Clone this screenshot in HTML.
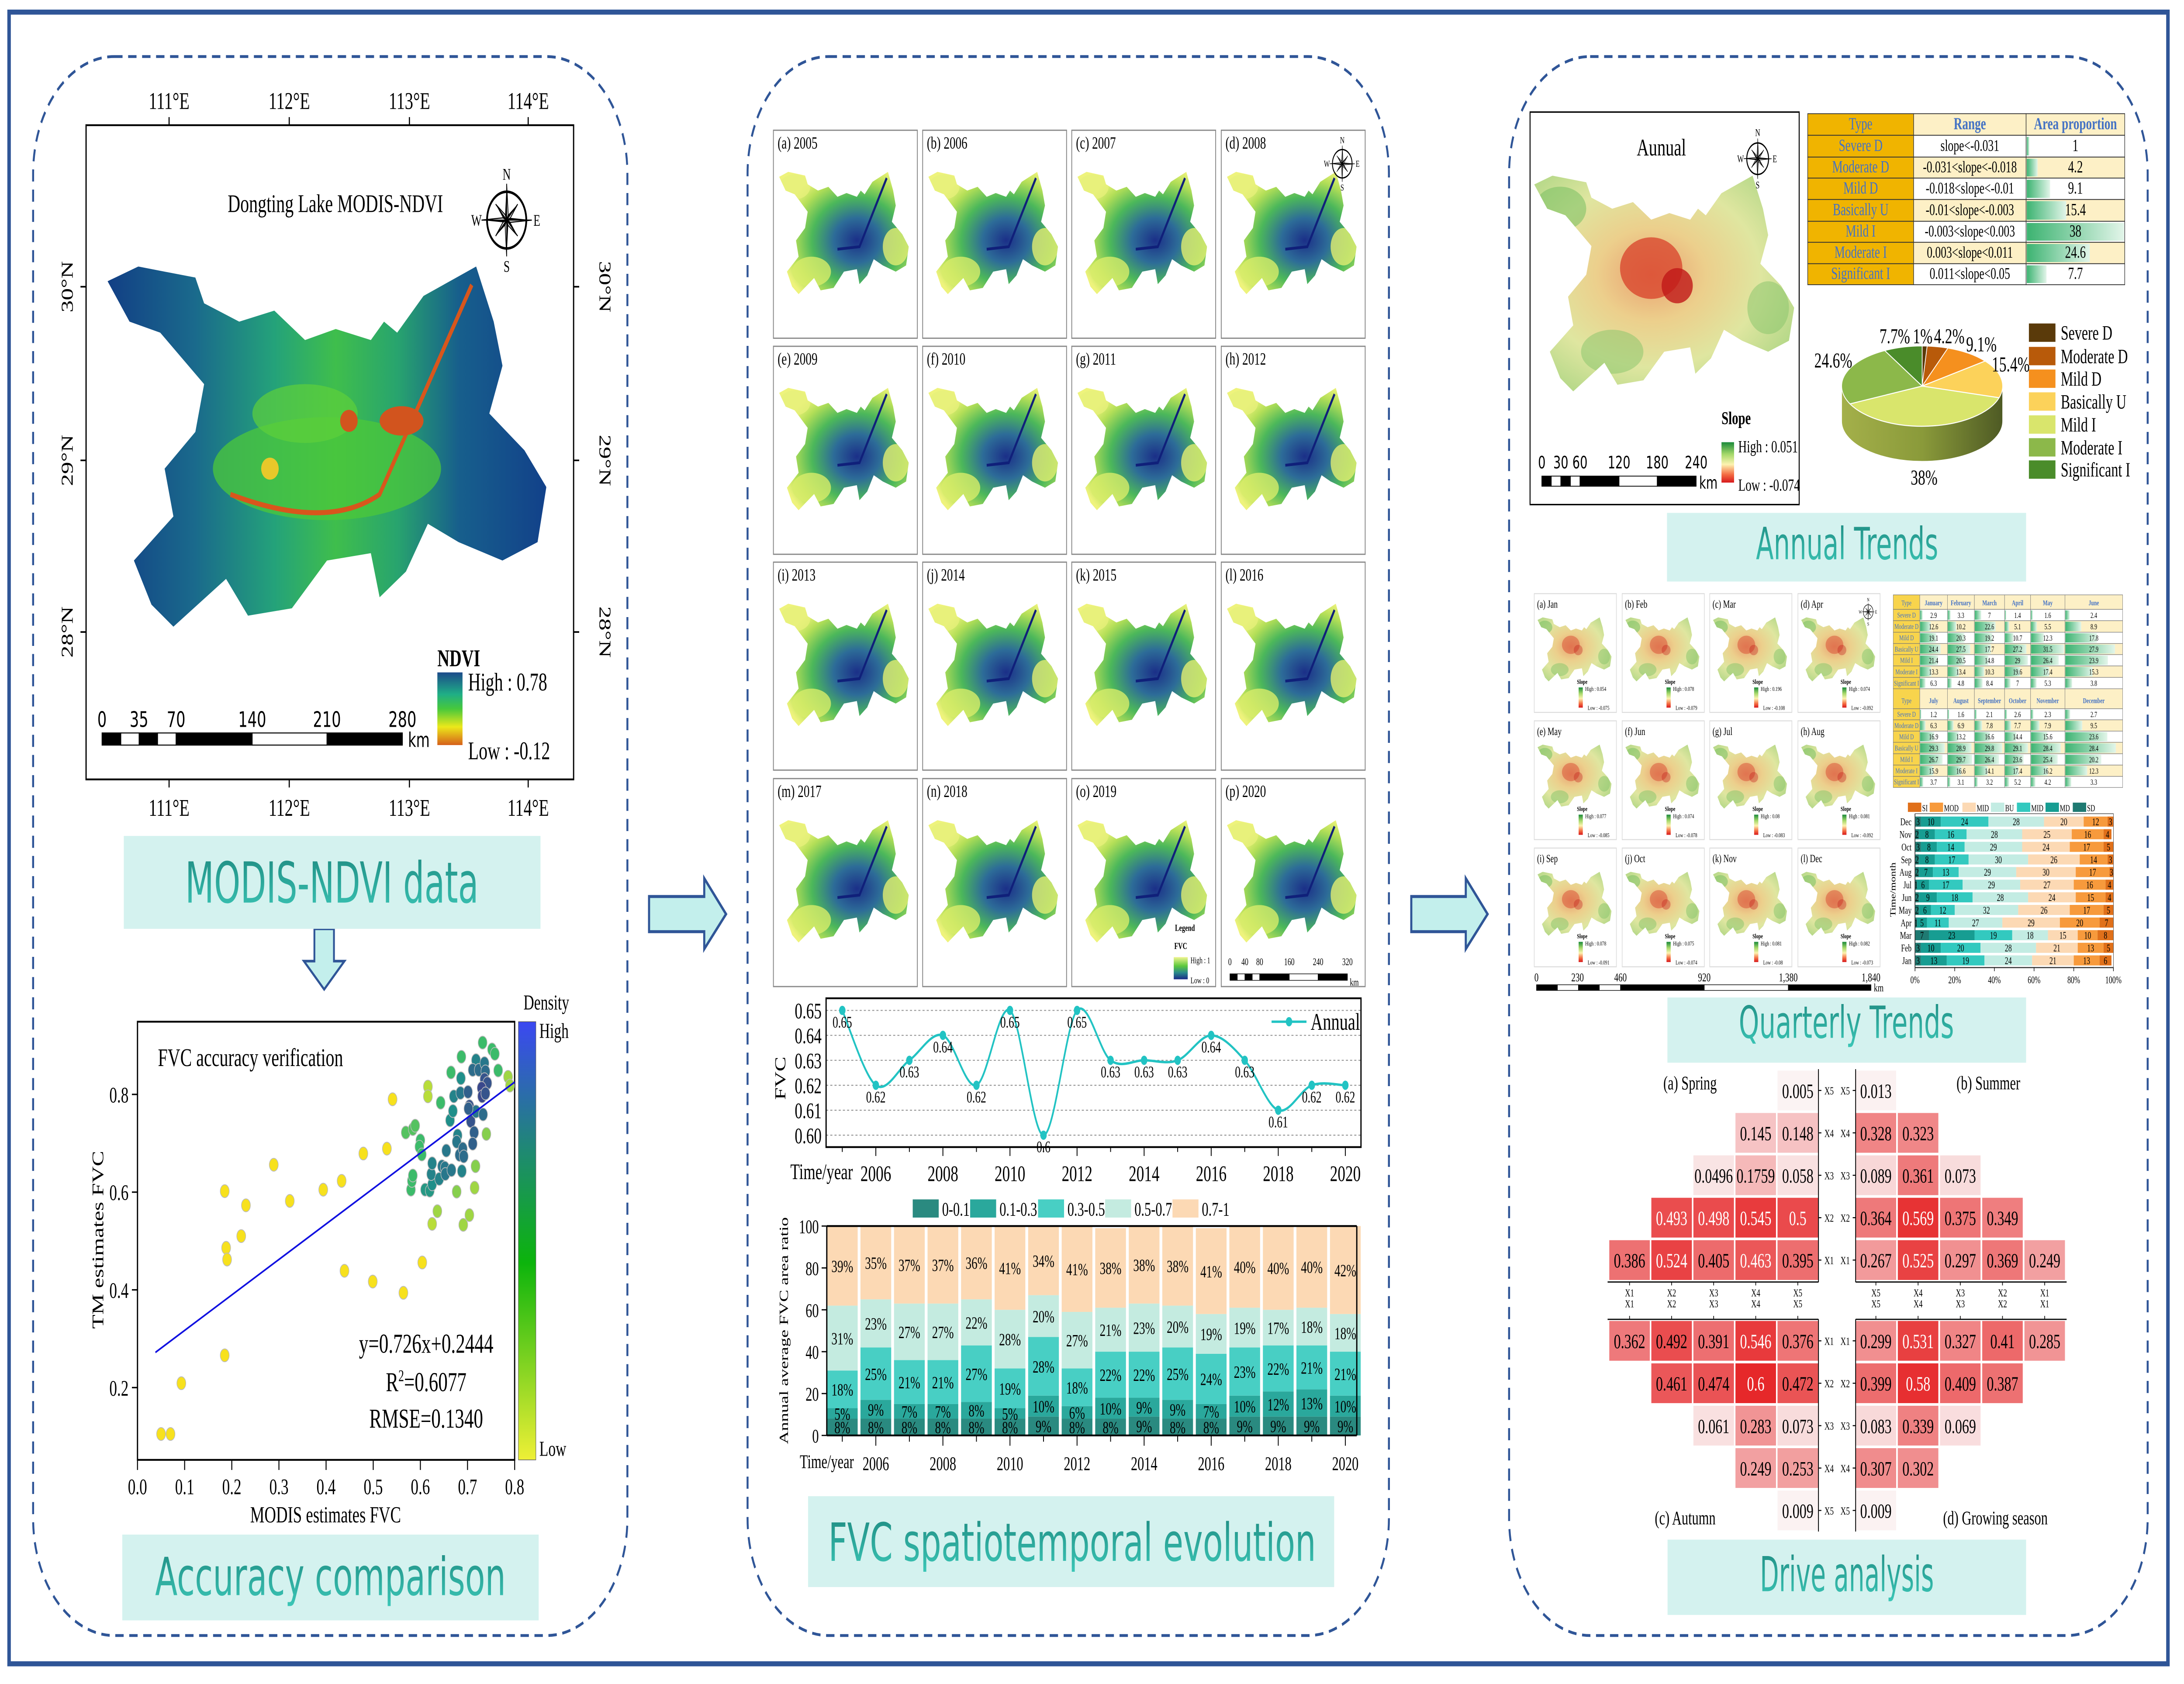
<!DOCTYPE html>
<html><head><meta charset="utf-8">
<style>
html,body{margin:0;padding:0;background:#fff;width:100%;height:100%;overflow:hidden;}
svg{display:block;position:absolute;left:0;top:0;width:100vw;height:100vh;}
text{font-family:"Liberation Serif","Times New Roman",serif;}
.sans{font-family:"DejaVu Sans","Liberation Sans",sans-serif;}
</style></head>
<body>
<svg id="fig" xmlns="http://www.w3.org/2000/svg" width="100%" height="100%" viewBox="0 0 1563 834" preserveAspectRatio="none">
<defs>
  <clipPath id="basinClip" clipPathUnits="objectBoundingBox">
    <path d="M0,0.04 L0.07,0 L0.2,0.03 L0.22,0.1 L0.3,0.15 L0.38,0.12 L0.45,0.2 L0.52,0.17 L0.6,0.2 L0.63,0.15 L0.66,0.18 L0.72,0.08 L0.84,0 L0.88,0.15 L0.9,0.27 L0.87,0.4 L0.95,0.5 L1,0.6 L0.98,0.75 L0.9,0.8 L0.8,0.75 L0.73,0.7 L0.68,0.83 L0.62,0.9 L0.6,0.78 L0.5,0.8 L0.42,0.93 L0.32,0.95 L0.27,0.85 L0.15,0.98 L0.1,0.92 L0.06,0.8 L0.15,0.68 L0.13,0.55 L0.2,0.45 L0.22,0.32 L0.12,0.18 L0.05,0.15 Z"/>
  </clipPath>
  <linearGradient id="gNdvi" x1="0" y1="0" x2="1" y2="0">
    <stop offset="0" stop-color="#123f85"/><stop offset="0.2" stop-color="#1a6a8c"/>
    <stop offset="0.38" stop-color="#24a27a"/><stop offset="0.52" stop-color="#3fbe4c"/>
    <stop offset="0.66" stop-color="#28a46e"/><stop offset="0.8" stop-color="#175f8c"/>
    <stop offset="1" stop-color="#12418a"/>
  </linearGradient>
  <radialGradient id="gFvc" cx="0.6" cy="0.55" r="0.6">
    <stop offset="0" stop-color="#1b2f88"/><stop offset="0.3" stop-color="#2d6c98"/>
    <stop offset="0.58" stop-color="#4cb85a"/><stop offset="0.82" stop-color="#b4df58"/>
    <stop offset="1" stop-color="#eef37c"/>
  </radialGradient>
  <radialGradient id="gSlope" cx="0.45" cy="0.45" r="0.6">
    <stop offset="0" stop-color="#e9a070"/><stop offset="0.35" stop-color="#eccf8c"/>
    <stop offset="0.7" stop-color="#dfe6a0"/><stop offset="1" stop-color="#b8d98a"/>
  </radialGradient>
  <linearGradient id="cbNdvi" x1="0" y1="0" x2="0" y2="1">
    <stop offset="0" stop-color="#1c4a8a"/><stop offset="0.3" stop-color="#1fae86"/>
    <stop offset="0.5" stop-color="#46c83c"/><stop offset="0.75" stop-color="#ece81a"/>
    <stop offset="1" stop-color="#d6601a"/>
  </linearGradient>
  <linearGradient id="cbSlope" x1="0" y1="0" x2="0" y2="1">
    <stop offset="0" stop-color="#1a8a3a"/><stop offset="0.3" stop-color="#a6d96a"/>
    <stop offset="0.55" stop-color="#fdf3b0"/><stop offset="0.8" stop-color="#f46d43"/>
    <stop offset="1" stop-color="#d7191c"/>
  </linearGradient>
  <linearGradient id="cbFvc" x1="0" y1="0" x2="0" y2="1">
    <stop offset="0" stop-color="#f0f590"/><stop offset="0.4" stop-color="#5cc83c"/>
    <stop offset="0.7" stop-color="#2a8a8a"/><stop offset="1" stop-color="#1a2a88"/>
  </linearGradient>
  <linearGradient id="cbDens" x1="0" y1="0" x2="0" y2="1">
    <stop offset="0" stop-color="#3b48f2"/><stop offset="0.3" stop-color="#1e8a70"/>
    <stop offset="0.55" stop-color="#0cb40c"/><stop offset="1" stop-color="#eef036"/>
  </linearGradient>
  <linearGradient id="gBar" x1="0" y1="0" x2="1" y2="0">
    <stop offset="0" stop-color="#3cb371"/><stop offset="1" stop-color="#e2f5e9"/>
  </linearGradient>
  <linearGradient id="gPieSide" x1="0" y1="0" x2="1" y2="0">
    <stop offset="0" stop-color="#a4b04a"/><stop offset="0.5" stop-color="#8a9a3a"/>
    <stop offset="1" stop-color="#4e5a24"/>
  </linearGradient>
  <linearGradient id="gLabel" x1="0" y1="0" x2="0" y2="1">
    <stop offset="0" stop-color="#1e8a80"/><stop offset="1" stop-color="#3cc8b8"/>
  </linearGradient>
</defs>
<g id="root">
<rect x="0" y="0" width="1563" height="834" fill="#ffffff"/>
<rect x="6.5" y="6" width="1545" height="818" fill="none" stroke="#2f5597" stroke-width="2.5"/>
<rect x="23.7" y="28" width="425.3" height="782" rx="58" fill="none" stroke="#2f5597" stroke-width="1.4" stroke-dasharray="6 4"/>
<rect x="535" y="28" width="459" height="782" rx="58" fill="none" stroke="#2f5597" stroke-width="1.4" stroke-dasharray="6 4"/>
<rect x="1080" y="28" width="457" height="782" rx="58" fill="none" stroke="#2f5597" stroke-width="1.4" stroke-dasharray="6 4"/>
<path d="M464.5,444 L504,444 L504,435 L519.6,452.7 L504,470 L504,461.4 L464.5,461.4 Z" fill="#c3efec" stroke="#2f5597" stroke-width="1.5"/>
<path d="M1010,444 L1049,444 L1049,435 L1064.6,452.7 L1049,470 L1049,461.4 L1010,461.4 Z" fill="#c3efec" stroke="#2f5597" stroke-width="1.5"/>
<path d="M225,460 L239,460 L239,476 L246.5,476 L232,490 L217.5,476 L225,476 Z" fill="#c3efec" stroke="#2f5597" stroke-width="1.3"/>
</g>
</svg>
<script>
// ===================== DATA =====================
const years = [2005,2006,2007,2008,2009,2010,2011,2012,2013,2014,2015,2016,2017,2018,2019,2020];
const fvcAnnual = [0.65,0.62,0.63,0.64,0.62,0.65,0.60,0.65,0.63,0.63,0.63,0.64,0.63,0.61,0.62,0.62];
const fvcClasses = ["0-0.1","0.1-0.3","0.3-0.5","0.5-0.7","0.7-1"];
const cls01 = [8,8,8,8,8,8,9,8,8,9,8,8,9,9,9,9];
const cls13 = [5,9,7,7,8,5,10,6,10,9,9,7,10,12,13,10];
const cls35 = [18,25,21,21,27,19,28,18,22,22,25,24,23,22,21,21];
const cls57 = [31,23,27,27,22,28,20,27,21,23,20,19,19,17,18,18];
const cls71 = [39,35,37,37,36,41,34,41,38,38,38,41,40,40,40,42];
const lineTicks = [0.60,0.61,0.62,0.63,0.64,0.65];
const barTicks = [0,20,40,60,80,100];

const scatX = [0.05,0.07,0.093,0.185,0.185,0.188,0.19,0.22,0.23,0.289,0.323,0.394,0.433,0.439,0.479,0.499,0.529,0.541,0.564,0.604,
 0.616,0.616,0.625,0.636,0.691,0.704,0.715,0.717,0.786,0.79,0.74,0.677,
 0.569,0.584,0.589,0.6,0.598,0.603,0.58,0.582,0.584,0.643,0.665,0.687,0.732,0.752,0.758,0.765,
 0.61,0.62,0.625,0.623,0.625,0.64,0.646,0.652,0.653,0.666,0.655,0.663,0.669,0.671,0.686,0.685,0.679,0.677,0.683,0.69,0.692,0.688,0.701,0.704,0.707,0.714,0.711,0.718,0.711,0.724,0.736,0.738,0.736,0.742,0.73,0.731,0.738,0.718,0.733,0.702];
const scatY = [0.105,0.105,0.209,0.266,0.602,0.486,0.462,0.51,0.573,0.656,0.582,0.605,0.623,0.439,0.679,0.417,0.689,0.79,0.394,0.456,
 0.816,0.796,0.535,0.561,0.533,0.553,0.609,0.653,0.836,0.818,0.719,0.601,
 0.722,0.729,0.736,0.706,0.693,0.677,0.605,0.623,0.634,0.783,0.845,0.877,0.906,0.892,0.883,0.849,
 0.605,0.603,0.616,0.637,0.659,0.627,0.653,0.65,0.637,0.645,0.685,0.747,0.766,0.796,0.833,0.803,0.716,0.703,0.676,0.689,0.673,0.643,0.805,0.776,0.745,0.722,0.699,0.87,0.85,0.85,0.864,0.847,0.831,0.823,0.813,0.796,0.802,0.765,0.759,0.771];
const scatDensity = [0,0,0,0,0,0,0,0,0,0,0,0,0,0,0,0,0,0,0,0,
 0.2,0.2,0.2,0.25,0.25,0.25,0.25,0.3,0.25,0.25,0.3,0.3,
 0.4,0.4,0.4,0.45,0.45,0.45,0.45,0.45,0.45,0.45,0.45,0.45,0.45,0.45,0.45,0.45,
 0.65,0.65,0.7,0.75,0.75,0.75,0.8,0.8,0.8,0.8,0.8,0.7,0.7,0.75,0.7,0.8,0.75,0.8,0.85,0.85,0.85,0.75,0.9,0.95,0.95,0.9,0.9,0.75,0.85,0.85,0.8,0.85,0.95,0.95,1,1,0.95,0.8,0.85,0.9];
const scatTicks = [0,0.1,0.2,0.3,0.4,0.5,0.6,0.7,0.8];
const scatYTicks = [0.2,0.4,0.6,0.8];
const regSlope = 0.726, regIntercept = 0.2444;

const slopeTypes = ["Severe D","Moderate D","Mild D","Basically U","Mild I","Moderate I","Significant I"];
const slopeRanges = ["slope<-0.031","-0.031<slope<-0.018","-0.018<slope<-0.01","-0.01<slope<-0.003","-0.003<slope<0.003","0.003<slope<0.011","0.011<slope<0.05"];
const slopeAreas = [1,4.2,9.1,15.4,38,24.6,7.7];
const pieColors = ["#5a3a0a","#b85a0a","#f5901e","#fcd25a","#d9e56c","#8cb84a","#4a8c2a"];

const months = ["January","February","March","April","May","June","July","August","September","October","November","December"];
const monSevere = [2.9,3.3,7,1.4,1.6,2.4,1.2,1.6,2.1,2.6,2.3,2.7];
const monModD = [12.6,10.2,22.6,5.1,5.5,8.9,6.3,6.9,7.8,7.7,7.9,9.5];
const monMildD = [19.1,20.3,19.2,10.7,12.3,17.8,16.9,13.2,16.6,14.4,15.6,23.6];
const monBasic = [24.4,27.5,17.7,27.2,31.5,27.9,29.3,28.9,29.8,29.1,28.4,28.4];
const monMildI = [21.4,20.5,14.8,29,26.4,23.9,26.7,29.7,26.4,23.6,25.4,20.2];
const monModI = [13.3,13.4,10.3,19.6,17.4,15.3,15.9,16.6,14.1,17.4,16.2,12.3];
const monSig = [6.3,4.8,8.4,7,5.3,3.8,3.7,3.1,3.2,5.2,4.2,3.3];

const hbMonths = ["Dec","Nov","Oct","Sep","Aug","Jul","Jun","May","Apr","Mar","Feb","Jan"];
const hbSD  = [3,2,3,2,2,1,2,2,1,7,3,3];
const hbMD  = [10,8,8,8,7,6,9,6,5,23,10,13];
const hbMID = [24,16,14,17,13,17,18,12,11,19,20,19];
const hbBU  = [28,28,29,30,29,29,28,32,27,18,28,24];
const hbMII = [20,25,24,26,30,27,24,26,29,15,21,21];
const hbMOD = [12,16,17,14,17,16,15,17,20,10,13,13];
const hbSI  = [3,4,5,3,3,4,4,5,7,8,5,6];
const hbTicks = [0,20,40,60,80,100];

const monthShort = ["Jan","Feb","Mar","Apr","May","Jun","Jul","Aug","Sep","Oct","Nov","Dec"];
const monthHigh = ["0.054","0.078","0.196","0.074","0.077","0.074","0.08","0.081","0.078","0.075","0.081","0.082"];
const monthLow = ["-0.075","-0.079","-0.108","-0.092","-0.085","-0.078","-0.083","-0.092","-0.091","-0.074","-0.08","-0.073"];

const springQ = [[0.386,0.524,0.405,0.463,0.395],[0.493,0.498,0.545,0.5],[0.0496,0.1759,0.058],[0.145,0.148],[0.005]];
const summerQ = [[0.249,0.369,0.297,0.525,0.267],[0.349,0.375,0.569,0.364],[0.073,0.361,0.089],[0.323,0.328],[0.013]];
const autumnQ = [[0.362,0.492,0.391,0.546,0.376],[0.461,0.474,0.6,0.472],[0.061,0.283,0.073],[0.249,0.253],[0.009]];
const growQ = [[0.285,0.41,0.327,0.531,0.299],[0.387,0.409,0.58,0.399],[0.069,0.339,0.083],[0.302,0.307],[0.009]];
const factorNames = ["X1","X2","X3","X4","X5"];

// ===================== HELPERS =====================
const NS = "http://www.w3.org/2000/svg";
const svg = document.getElementById("root");
function mk(tag, attrs, parent){
  const e = document.createElementNS(NS, tag);
  for (const k in attrs) e.setAttribute(k, attrs[k]);
  (parent || svg).appendChild(e);
  return e;
}
function txt(str, x, y, size, anchor, parent, extra){
  const a = {x:x, y:y, "font-size":size, "text-anchor":anchor||"start", fill:"#000"};
  if (extra) for (const k in extra) a[k] = extra[k];
  const t = mk("text", a, parent);
  t.textContent = str;
  return t;
}
function group(parent){ return mk("g", {}, parent); }

function drawMap(parent, x, y, w, h, kind){
  const g = mk("g", {"clip-path":"url(#basinClip)"}, parent);
  let fill = kind === "ndvi" ? "url(#gNdvi)" : kind === "fvc" ? "url(#gFvc)" : "url(#gSlope)";
  mk("rect", {x:x, y:y, width:w, height:h, fill:fill}, g);
  if (kind === "ndvi"){
    mk("ellipse", {cx:x+0.5*w, cy:y+0.55*h, rx:0.26*w, ry:0.14*h, fill:"#4cc83a", opacity:0.75}, g);
    mk("ellipse", {cx:x+0.45*w, cy:y+0.4*h, rx:0.12*w, ry:0.08*h, fill:"#5ed03a", opacity:0.7}, g);
    mk("path", {d:`M${x+0.28*w},${y+0.62*h} Q${x+0.5*w},${y+0.72*h} ${x+0.62*w},${y+0.62*h} L${x+0.83*w},${y+0.05*h}`, stroke:"#d8561c", "stroke-width":Math.max(0.8,w*0.008), fill:"none"}, g);
    mk("ellipse", {cx:x+0.67*w, cy:y+0.42*h, rx:0.05*w, ry:0.04*h, fill:"#d2541e"}, g);
    mk("ellipse", {cx:x+0.55*w, cy:y+0.42*h, rx:0.02*w, ry:0.03*h, fill:"#d2541e"}, g);
    mk("ellipse", {cx:x+0.37*w, cy:y+0.55*h, rx:0.02*w, ry:0.03*h, fill:"#e8c82a"}, g);
  } else if (kind === "fvc"){
    mk("ellipse", {cx:x+0.12*w, cy:y+0.12*h, rx:0.12*w, ry:0.1*h, fill:"#e6f07a", opacity:0.8}, g);
    mk("ellipse", {cx:x+0.25*w, cy:y+0.8*h, rx:0.15*w, ry:0.12*h, fill:"#d8ec6a", opacity:0.8}, g);
    mk("ellipse", {cx:x+0.9*w, cy:y+0.6*h, rx:0.1*w, ry:0.15*h, fill:"#e2ee72", opacity:0.8}, g);
    mk("path", {d:`M${x+0.45*w},${y+0.62*h} L${x+0.62*w},${y+0.6*h} L${x+0.83*w},${y+0.05*h}`, stroke:"#10207a", "stroke-width":Math.max(0.8,w*0.015), fill:"none"}, g);
  } else {
    mk("ellipse", {cx:x+0.1*w, cy:y+0.15*h, rx:0.1*w, ry:0.1*h, fill:"#79bf62", opacity:0.55}, g);
    mk("ellipse", {cx:x+0.3*w, cy:y+0.8*h, rx:0.12*w, ry:0.1*h, fill:"#86c46a", opacity:0.5}, g);
    mk("ellipse", {cx:x+0.9*w, cy:y+0.6*h, rx:0.08*w, ry:0.12*h, fill:"#86c46a", opacity:0.5}, g);
    mk("ellipse", {cx:x+0.45*w, cy:y+0.42*h, rx:0.12*w, ry:0.14*h, fill:"#d8402a", opacity:kind==="slopeStrong"?0.75:0.45}, g);
    mk("ellipse", {cx:x+0.55*w, cy:y+0.5*h, rx:0.06*w, ry:0.08*h, fill:"#c01818", opacity:kind==="slopeStrong"?0.8:0.35}, g);
  }
  return g;
}
function compass(parent, cx, cy, r, fs){
  const g = group(parent);
  mk("circle", {cx:cx, cy:cy, r:r*0.78, fill:"none", stroke:"#000", "stroke-width":r*0.07}, g);
  for (let i=0;i<8;i++){
    const a = i*Math.PI/4 - Math.PI/2, L = (i%2===0)? r : r*0.62;
    const a1 = a - Math.PI/8, a2 = a + Math.PI/8, s = r*0.16;
    mk("polygon", {points:`${cx},${cy} ${cx+s*Math.cos(a1)},${cy+s*Math.sin(a1)} ${cx+L*Math.cos(a)},${cy+L*Math.sin(a)}`, fill:"#000"}, g);
    mk("polygon", {points:`${cx},${cy} ${cx+s*Math.cos(a2)},${cy+s*Math.sin(a2)} ${cx+L*Math.cos(a)},${cy+L*Math.sin(a)}`, fill:"#fff", stroke:"#000", "stroke-width":r*0.03}, g);
  }
  txt("N", cx, cy-r-fs*0.25, fs, "middle", g);
  txt("S", cx, cy+r+fs*0.95, fs, "middle", g);
  txt("W", cx-r-fs*0.45, cy+fs*0.35, fs, "middle", g);
  txt("E", cx+r+fs*0.45, cy+fs*0.35, fs, "middle", g);
  return g;
}
function labelBox(x, y, w, h, str, tx, tlen, base, fs){
  const g = group();
  mk("rect", {x:x, y:y, width:w, height:h, fill:"#d4f2ef"}, g);
  txt(str, tx, base, fs, "start", g, {"class":"sans", fill:"url(#gLabel)", textLength:tlen, lengthAdjust:"spacingAndGlyphs"});
  return g;
}

// ===================== PANEL 1: NDVI MAP =====================
const p1 = group();


const ndviFrame = mk("rect", {x:61.6, y:62, width:348.9, height:324, fill:"#fff", stroke:"#000", "stroke-width":0.9}, p1);


const ndviMap = drawMap(p1, 77, 132, 314, 182, "ndvi");


const lonX = [121, 207, 293, 378];
const lonLab = ["111°E","112°E","113°E","114°E"];
for (let i=0;i<4;i++){
  mk("line", {x1:lonX[i], y1:58, x2:lonX[i], y2:62, stroke:"#000", "stroke-width":0.8}, p1);
  mk("line", {x1:lonX[i], y1:386, x2:lonX[i], y2:390, stroke:"#000", "stroke-width":0.8}, p1);
  const t1 = txt(lonLab[i], lonX[i], 54, 12, "middle", p1);
  
  
  const t2 = txt(lonLab[i], lonX[i], 404, 12, "middle", p1);
  
  
}
const latY = [142, 228, 313];
const latLab = ["30°N","29°N","28°N"];
for (let i=0;i<3;i++){
  mk("line", {x1:57.6, y1:latY[i], x2:61.6, y2:latY[i], stroke:"#000", "stroke-width":0.8}, p1);
  mk("line", {x1:410.5, y1:latY[i], x2:414.5, y2:latY[i], stroke:"#000", "stroke-width":0.8}, p1);
  const t1 = txt(latLab[i], 0, 0, 12, "middle", p1, {transform:`translate(52,${latY[i]}) rotate(-90)`});
  
  
  const t2 = txt(latLab[i], 0, 0, 12, "middle", p1, {transform:`translate(429,${latY[i]}) rotate(90)`});
  
  
}
const ndviTitle = txt("Dongting Lake MODIS-NDVI", 240, 105, 12.5, "middle", p1);


const comp1 = compass(p1, 362.6, 109, 18, 8);


const ndviLegT = txt("NDVI", 313, 330, 12, "start", p1, {"font-weight":"bold"});


const ndviCb = mk("rect", {x:313, y:333, width:18, height:36, fill:"url(#cbNdvi)"}, p1);


const ndviHi = txt("High : 0.78", 335, 342, 12.5, "start", p1);


const ndviLo = txt("Low : -0.12", 335, 376, 12.5, "start", p1);


const sbVals = ["0","35","70","140","210","280"];
const sbX = [73, 99.5, 126, 180.5, 234, 288];
for (let i=0;i<sbVals.length;i++){
  const t = txt(sbVals[i], sbX[i], 360, 10.5, "middle", p1, {"class":"sans"});
  
  
}
const sbSeg = [73,86.5,99.5,112.8,126,180.5,234,288];
for (let i=0;i<sbSeg.length-1;i++){
  const r = mk("rect", {x:sbSeg[i], y:363, width:sbSeg[i+1]-sbSeg[i], height:6, fill:(i%2===0)?"#000":"#fff", stroke:"#000", "stroke-width":0.5}, p1);
  
  
}
const km1 = txt("km", 292, 370, 10, "start", p1, {"class":"sans"});


const lb1 = labelBox(88.6, 414, 298.2, 46, "MODIS-NDVI data", 132.5, 210, 447, 28);



// ===================== PANEL 1: SCATTER =====================
const sc = group();


const sx = v => 98.4 + v * 337.4;
const sy = v => 542 + (0.8 - v) * 242;
const scFrame = mk("rect", {x:98.4, y:506, width:269.9, height:217, fill:"#fff", stroke:"#000", "stroke-width":0.9}, sc);


for (const v of scatTicks){
  mk("line", {x1:sx(v), y1:723, x2:sx(v), y2:728, stroke:"#000", "stroke-width":0.7}, sc);
  const t = txt(v.toFixed(1), sx(v), 740, 11, "middle", sc);
  
  
}
for (const v of scatYTicks){
  mk("line", {x1:94.4, y1:sy(v), x2:98.4, y2:sy(v), stroke:"#000", "stroke-width":0.7}, sc);
  const t = txt(v.toFixed(1), 92, sy(v)+4, 11, "end", sc);
  
  
}
const scXT = txt("MODIS estimates FVC", 233, 754, 11.5, "middle", sc);


const scYT = txt("TM estimates FVC", 0, 0, 11.5, "middle", sc, {transform:"translate(74,614) rotate(-90)"});


function densColor(d){
  const stops = [[0,[247,225,29]],[0.2,[184,221,58]],[0.45,[60,187,106]],[0.7,[31,143,138]],[1,[58,72,140]]];
  for (let i=0;i<stops.length-1;i++){
    if (d <= stops[i+1][0]){
      const t = (d - stops[i][0])/(stops[i+1][0]-stops[i][0]);
      const c = stops[i][1].map((v,k)=>Math.round(v + (stops[i+1][1][k]-v)*t));
      return `rgb(${c[0]},${c[1]},${c[2]})`;
    }
  }
  return "rgb(58,72,140)";
}
for (let i=0;i<scatX.length;i++){
  const c = mk("circle", {cx:sx(scatX[i]), cy:sy(scatY[i]), r:3.2, fill:densColor(scatDensity[i]), stroke:"#bbbbbb", "stroke-width":0.4}, sc);
  
  
}
const rx0 = 0.038, rx1 = 0.8;
const regLine = mk("line", {x1:sx(rx0), y1:sy(regSlope*rx0+regIntercept), x2:sx(rx1), y2:sy(regSlope*rx1+regIntercept), stroke:"#1010e0", "stroke-width":0.9}, sc);


const scTitle = txt("FVC accuracy verification", 113, 528, 12.5, "start", sc);


const eq1 = txt("y=0.726x+0.2444", 305, 670, 13.5, "middle", sc);


const eq2 = mk("text", {x:305, y:689, "font-size":13.5, "text-anchor":"middle"}, sc);
eq2.innerHTML = 'R<tspan dy="-5" font-size="8">2</tspan><tspan dy="5">=0.6077</tspan>';


const eq3 = txt("RMSE=0.1340", 305, 707, 13.5, "middle", sc);


const dCb = mk("rect", {x:371, y:506, width:12.5, height:217, fill:"url(#cbDens)", stroke:"#555", "stroke-width":0.3}, sc);


const dT = txt("Density", 391, 500, 10.5, "middle", sc);


const dH = txt("High", 386, 514, 10.5, "start", sc);


const dL = txt("Low", 386, 721, 10.5, "start", sc);


const lb2 = labelBox(87.5, 760, 298, 42.5, "Accuracy comparison", 111, 251, 790, 26);



// ===================== PANEL 2: FVC MAP TILES =====================
const tileX = [553.5, 660.3, 767, 874];
const tileY = [64.5, 171.5, 278.4, 385.6];
const tileW = 103, tileH = 103;
const tileLetters = "abcdefghijklmnop";
for (let i=0;i<16;i++){
  const cx = tileX[i%4], cy = tileY[Math.floor(i/4)];
  const tg = group();
  
  
  mk("rect", {x:cx, y:cy, width:tileW, height:tileH, fill:"#fff", stroke:"#888", "stroke-width":0.6}, tg);
  drawMap(tg, cx+0.04*tileW, cy+0.2*tileH, 0.9*tileW, 0.6*tileH, "fvc");
  const t = txt(`(${tileLetters[i]}) ${years[i]}`, cx+3, cy+9, 8.5, "start", tg);
  
  
}
const comp2 = compass(svg, 960.6, 81.1, 9, 4.5);


const fl1 = txt("Legend", 848, 461, 4.5, "middle", svg, {"font-weight":"bold"});


const fl2 = txt("FVC", 845, 470, 4.5, "middle", svg, {"font-weight":"bold"});


const fcb = mk("rect", {x:840, y:474, width:10, height:11, fill:"url(#cbFvc)"});


const fhi = txt("High : 1", 852, 477, 4.3, "start");


const flo = txt("Low : 0", 852, 487, 4.3, "start");


const fsbVals = ["0","40","80","160","240","320"];
const fsbX = [880.2, 890.9, 901.5, 922.7, 943.3, 964.3];
for (let i=0;i<fsbVals.length;i++){
  const t = txt(fsbVals[i], fsbX[i], 478, 5, "middle");
  
  
}
const fsbSeg = [880.2,885.5,890.9,896.2,901.5,922.7,943.3,964.3];
for (let i=0;i<fsbSeg.length-1;i++){
  const r = mk("rect", {x:fsbSeg[i], y:482.3, width:fsbSeg[i+1]-fsbSeg[i], height:3.2, fill:(i%2===0)?"#000":"#fff", stroke:"#000", "stroke-width":0.3});
  
  
}
const fkm = txt("km", 966, 488, 5, "start");



// ===================== PANEL 2: LINE CHART =====================
const lc = group();


const lx = yr => 602.8 + (yr - 2005) * 24.0;
const ly = v => 500.4 + (0.65 - v) * 1236;
for (const v of lineTicks){
  const gl = mk("line", {x1:591.2, y1:ly(v), x2:974, y2:ly(v), stroke:"#999", "stroke-width":0.5, "stroke-dasharray":"1.5 1.5"}, lc);
  
  
  const t = txt(v.toFixed(2), 588, ly(v)+4, 11, "end", lc);
  
  
}
const lcFrame = mk("rect", {x:591.2, y:494.4, width:382.8, height:73.7, fill:"none", stroke:"#000", "stroke-width":0.9}, lc);


for (const yr of years){
  mk("line", {x1:lx(yr), y1:568.1, x2:lx(yr), y2:(yr%2===0)?572.5:570.5, stroke:"#000", "stroke-width":0.6}, lc);
  if (yr % 2 === 0){
    const t = txt(String(yr), lx(yr), 585, 11, "middle", lc);
    
    
  }
}
const lcTY = txt("Time/year", 588, 584, 11, "middle", lc);


const lcYT = txt("FVC", 0, 0, 11, "middle", lc, {transform:"translate(562,534) rotate(-90)"});


const pts = years.map((yr,i)=>[lx(yr), ly(fvcAnnual[i])]);
let d = `M${pts[0][0]},${pts[0][1]}`;
for (let i=0;i<pts.length-1;i++){
  const p0 = pts[Math.max(0,i-1)], q1 = pts[i], q2 = pts[i+1], p3 = pts[Math.min(pts.length-1,i+2)];
  const c1 = [q1[0]+(q2[0]-p0[0])/6, q1[1]+(q2[1]-p0[1])/6];
  const c2 = [q2[0]-(p3[0]-q1[0])/6, q2[1]-(p3[1]-q1[1])/6];
  d += ` C${c1[0]},${c1[1]} ${c2[0]},${c2[1]} ${q2[0]},${q2[1]}`;
}
const curve = mk("path", {d:d, fill:"none", stroke:"#22c3c3", "stroke-width":1.2}, lc);


for (let i=0;i<years.length;i++){
  const c = mk("circle", {cx:pts[i][0], cy:pts[i][1], r:2.3, fill:"#22c3c3"}, lc);
  
  
  const lab = fvcAnnual[i] === 0.6 ? "0.6" : fvcAnnual[i].toFixed(2);
  const t = txt(lab, pts[i][0], pts[i][1]+8.5, 8, "middle", lc);
  
  
}
const lgL = mk("line", {x1:910, y1:506, x2:935, y2:506, stroke:"#22c3c3", "stroke-width":1.2}, lc);


mk("circle", {cx:922.5, cy:506, r:2.3, fill:"#22c3c3"}, lc);
const lgT = txt("Annual", 938, 510, 12, "start", lc);



// ===================== PANEL 2: STACKED BAR =====================
const bc = group();


const by = v => 710.9 - v * 1.037;
const clsColors = ["#2a8a80","#2aa89c","#48cfc4","#c4ebe0","#fcd9b4"];
const clsSeries = [cls01, cls13, cls35, cls57, cls71];
const legX = [653.2, 694.3, 742.9, 790.9, 839.1];
for (let k=0;k<5;k++){
  const r = mk("rect", {x:legX[k], y:594, width:18.6, height:9, fill:clsColors[k]}, bc);
  
  
  const t = txt(fvcClasses[k], legX[k]+21, 602, 9.5, "start", bc);
  
  
}
for (let i=0;i<years.length;i++){
  let cum = 0;
  for (let k=0;k<5;k++){
    const v = clsSeries[k][i];
    const top = Math.min(100, cum + v);
    const r = mk("rect", {x:lx(years[i])-11, y:by(top), width:22, height:by(cum)-by(top), fill:clsColors[k]}, bc);
    
    
    const t = txt(v + "%", lx(years[i]), by((cum+top)/2)+3, 8.5, "middle", bc);
    
    
    cum = top;
  }
}
const bAxY = mk("line", {x1:591.7, y1:607.2, x2:591.7, y2:710.9, stroke:"#000", "stroke-width":0.9}, bc);


const bAxX = mk("line", {x1:591.7, y1:710.9, x2:971, y2:710.9, stroke:"#000", "stroke-width":0.9}, bc);


mk("line", {x1:591.7, y1:607.2, x2:971, y2:607.2, stroke:"#000", "stroke-width":0.9}, bc);
mk("line", {x1:971, y1:607.2, x2:971, y2:710.9, stroke:"#000", "stroke-width":0.9}, bc);
for (const v of barTicks){
  mk("line", {x1:588, y1:by(v), x2:591.7, y2:by(v), stroke:"#000", "stroke-width":0.6}, bc);
  const t = txt(String(v), 586, by(v)+3.5, 9.5, "end", bc);
  
  
}
for (const yr of years){
  mk("line", {x1:lx(yr), y1:710.9, x2:lx(yr), y2:(yr%2===0)?716:714, stroke:"#000", "stroke-width":0.6}, bc);
  if (yr%2===0){
    const t = txt(String(yr), lx(yr), 728, 9.5, "middle", bc);
    
    
  }
}
const bTY = txt("Time/year", 591.7, 727, 9.5, "middle", bc);


const bYT = txt("Annual average FVC area ratio", 0, 0, 9, "middle", bc, {transform:"translate(564,659) rotate(-90)"});


const lb3 = labelBox(578.3, 741, 376.5, 45, "FVC spatiotemporal evolution", 592.8, 349, 773, 26);



// ===================== PANEL 3: ANNUAL TRENDS =====================
const at = group();


const amf = mk("rect", {x:1095, y:55.5, width:192.6, height:194.4, fill:"#fff", stroke:"#000", "stroke-width":0.7}, at);


const am = drawMap(at, 1098, 87, 186, 109, "slopeStrong");


const amt = txt("Aunual", 1189, 77, 12, "middle", at);


const comp3 = compass(at, 1257.9, 78.6, 10, 5);


const slT = txt("Slope", 1232, 210, 9, "start", at, {"font-weight":"bold"});


const slCb = mk("rect", {x:1232, y:219, width:9, height:20, fill:"url(#cbSlope)"}, at);


const slH = txt("High : 0.051", 1244, 224, 8.5, "start", at);


const slL = txt("Low : -0.074", 1244, 243, 8.5, "start", at);


const asbVals = ["0","30","60","120","180","240"];
const asbX = [1103.4, 1117, 1130.7, 1158.7, 1186, 1213.9];
for (let i=0;i<asbVals.length;i++){
  const t = txt(asbVals[i], asbX[i], 232, 8.5, "middle", at, {"class":"sans"});
  
  
}
const asbSeg = [1103.4,1110.2,1117,1123.9,1130.7,1158.7,1186,1213.9];
for (let i=0;i<asbSeg.length-1;i++){
  const r = mk("rect", {x:asbSeg[i], y:235.8, width:asbSeg[i+1]-asbSeg[i], height:5, fill:(i%2===0)?"#000":"#fff", stroke:"#000", "stroke-width":0.4}, at);
  
  
}
const akm = txt("km", 1216, 242, 8.5, "start", at, {"class":"sans"});



const tRowY = [56.3, 67, 77.8, 88.2, 98.8, 109.6, 120, 130.6, 141];
const tColX = [1293.7, 1369.5, 1450, 1520.6];
const tbl = group(at);


for (let r=0;r<8;r++){
  const y0 = tRowY[r], h = tRowY[r+1]-tRowY[r];
  mk("rect", {x:tColX[0], y:y0, width:tColX[1]-tColX[0], height:h, fill:"#f0b400", stroke:"#333", "stroke-width":0.4}, tbl);
  const bgc = r===0 ? "#fdf0c6" : (r%2===0 ? "#fdf0c6" : "#ffffff");
  mk("rect", {x:tColX[1], y:y0, width:tColX[2]-tColX[1], height:h, fill:bgc, stroke:"#333", "stroke-width":0.4}, tbl);
  mk("rect", {x:tColX[2], y:y0, width:tColX[3]-tColX[2], height:h, fill:bgc, stroke:"#333", "stroke-width":0.4}, tbl);
  const ty = y0 + h*0.72;
  if (r===0){
    const a = txt("Type", (tColX[0]+tColX[1])/2, ty, 8.5, "middle", tbl, {fill:"#4472c4"});
    
    
    const b = txt("Range", (tColX[1]+tColX[2])/2, ty, 8.5, "middle", tbl, {fill:"#4472c4", "font-weight":"bold"});
    
    
    const c = txt("Area proportion", (tColX[2]+tColX[3])/2, ty, 8.5, "middle", tbl, {fill:"#4472c4", "font-weight":"bold"});
    
    
  } else {
    const i = r-1;
    const bw = slopeAreas[i]/38 * (tColX[3]-tColX[2]-1);
    const bar = mk("rect", {x:tColX[2]+0.5, y:y0+0.8, width:bw, height:h-1.6, fill:"url(#gBar)"}, tbl);
    
    
    const a = txt(slopeTypes[i], (tColX[0]+tColX[1])/2, ty, 8.5, "middle", tbl, {fill:"#4472c4"});
    
    
    const b = txt(slopeRanges[i], (tColX[1]+tColX[2])/2, ty, 8, "middle", tbl);
    
    
    const c = txt(String(slopeAreas[i]), (tColX[2]+tColX[3])/2, ty, 8.5, "middle", tbl);
    
    
  }
}

const pie = group(at);


const pcx = 1375.6, pcy = 191.2, prx = 57.6, pry = 19.9, pdep = 17.4;
const side = mk("path", {d:`M${pcx-prx},${pcy} A${prx},${pry} 0 0 0 ${pcx+prx},${pcy} L${pcx+prx},${pcy+pdep} A${prx},${pry} 0 0 1 ${pcx-prx},${pcy+pdep} Z`, fill:"url(#gPieSide)", stroke:"#fff", "stroke-width":0.4}, pie);


const pieTotal = slopeAreas.reduce((a,b)=>a+b,0);
let ang = -Math.PI/2;
for (let i=0;i<slopeAreas.length;i++){
  const a2 = ang + slopeAreas[i]/pieTotal*2*Math.PI;
  const x1 = pcx + prx*Math.cos(ang), y1 = pcy + pry*Math.sin(ang);
  const x2 = pcx + prx*Math.cos(a2), y2 = pcy + pry*Math.sin(a2);
  const large = (a2-ang) > Math.PI ? 1 : 0;
  const s = mk("path", {d:`M${pcx},${pcy} L${x1},${y1} A${prx},${pry} 0 ${large} 1 ${x2},${y2} Z`, fill:pieColors[i], stroke:"#fff", "stroke-width":0.5}, pie);
  
  
  ang = a2;
}
const pieLabels = ["1%","4.2%","9.1%","15.4%","38%","24.6%","7.7%"];
const pieLabX = [1376, 1395, 1418, 1439, 1377, 1312, 1356];
const pieLabY = [170, 170, 174, 184, 240, 182, 170];
for (let i=0;i<pieLabels.length;i++){
  const t = txt(pieLabels[i], pieLabX[i], pieLabY[i], 10.5, "middle", pie);
  
  
}
const pieLegY = [164.7,176.3,187.5,198.8,210.2,221.5,232.5];
for (let i=0;i<7;i++){
  const r = mk("rect", {x:1452, y:pieLegY[i]-4.5, width:19, height:9.1, fill:pieColors[i]}, pie);
  
  
  const t = txt(slopeTypes[i], 1474.8, pieLegY[i]+3.5, 10, "start", pie);
  
  
}
const lb4 = labelBox(1193, 254, 257, 34, "Annual Trends", 1256.7, 130.4, 277, 22);



// ===================== PANEL 3: MONTHLY =====================
const mt = group();


const mTX = [1098, 1160.9, 1223.6, 1286.7];
const mTY = [294, 357, 420];
const mW = 58.8, mH = 58.8;
for (let i=0;i<12;i++){
  const x = mTX[i%4], y = mTY[Math.floor(i/4)];
  const g = group(mt);
  
  
  mk("rect", {x:x, y:y, width:mW, height:mH, fill:"#fff", stroke:"#ddd", "stroke-width":0.5}, g);
  drawMap(g, x+0.04*mW, y+0.2*mH, 0.9*mW, 0.55*mH, "slope");
  const t = txt(`(${"abcdefghijkl"[i]}) ${monthShort[i]}`, x+2, y+7, 5.5, "start", g);
  
  
  txt("Slope", x+0.52*mW, y+0.76*mH, 3.2, "start", g, {"font-weight":"bold"});
  mk("rect", {x:x+0.54*mW, y:y+0.79*mH, width:3, height:10, fill:"url(#cbSlope)"}, g);
  txt("High : " + monthHigh[i], x+0.62*mW, y+0.82*mH, 3, "start", g);
  txt("Low : " + monthLow[i], x+0.65*mW, y+0.98*mH, 3, "start", g);
}
const comp4 = compass(mt, 1337, 303, 4.5, 2.5);


const msbVals = ["0","230","460","920","1,380","1,840"];
const msbX = [1099.6, 1129, 1159.7, 1219.7, 1279.8, 1339];
for (let i=0;i<msbVals.length;i++){
  const t = txt(msbVals[i], msbX[i], 486, 6, "middle", mt);
  
  
}
const msbSeg = [1099.6,1114.6,1129.6,1144.6,1159.7,1219.7,1279.8,1339];
for (let i=0;i<msbSeg.length-1;i++){
  const r = mk("rect", {x:msbSeg[i], y:487.7, width:msbSeg[i+1]-msbSeg[i], height:2.8, fill:(i%2===0)?"#000":"#fff", stroke:"#000", "stroke-width":0.3}, mt);
  
  
}
const mkm = txt("km", 1341, 491, 5.5, "start", mt);



const mtRowY = [294.6,301.8,307.4,313.1,318.7,324.2,329.8,335.5,341.1,351,356.5,362.1,367.6,373.3,378.9,384.5,390];
const mtColX = [1354.9,1373.9,1393.7,1413,1434.6,1453.2,1477.8,1519.1];
const monSeries = [monSevere, monModD, monMildD, monBasic, monMildI, monModI, monSig];
const mtab = group(mt);


for (let half=0; half<2; half++){
  for (let r=0;r<8;r++){
    const ri = half*8 + r;
    const y0 = mtRowY[ri], h = mtRowY[ri+1]-y0;
    for (let c=0;c<7;c++){
      const x0 = mtColX[c], w = mtColX[c+1]-x0;
      let fill = c===0 ? "#f8d44c" : (r===0 ? "#fdf0c6" : (r%2===0 ? "#fdf0c6" : "#ffffff"));
      mk("rect", {x:x0, y:y0, width:w, height:h, fill:fill, stroke:"#777", "stroke-width":0.25}, mtab);
      if (r===0){
        const t = txt(c===0 ? "Type" : months[half*6+c-1], x0+w/2, y0+h*0.72, 3.6, "middle", mtab, {fill:"#4472c4", "font-weight": c===0?"normal":"bold"});
        
        
      } else if (c===0){
        const t = txt(slopeTypes[r-1], x0+w/2, y0+h*0.72, 3.6, "middle", mtab, {fill:"#4472c4"});
        
        
      } else {
        const v = monSeries[r-1][half*6+c-1];
        const b = mk("rect", {x:x0+0.3, y:y0+0.5, width:v/32*(w-0.6), height:h-1, fill:"url(#gBar)"}, mtab);
        
        
        const t = txt(String(v), x0+w/2, y0+h*0.75, 3.8, "middle", mtab);
        
        
      }
    }
  }
}

const hb = group(mt);


const hx = v => 1370.5 + v * 1.42;
const hyc = i => 406.9 + i * 6.25;
const hbSeries = [hbSD, hbMD, hbMID, hbBU, hbMII, hbMOD, hbSI];
const hbColors = ["#1f7a72","#179d92","#33c9bf","#c3ece3","#fcd9b4","#f79a3c","#e0701a"];
const hbLegNames = ["SI","MOD","MID","BU","MID","MD","SD"];
const hbLegColors = ["#e0701a","#f79a3c","#fcd9b4","#c3ece3","#33c9bf","#179d92","#1f7a72"];
const hbLegX = [1365.4, 1381, 1404.4, 1424.8, 1443.4, 1463.9, 1483.4];
for (let k=0;k<7;k++){
  const r = mk("rect", {x:hbLegX[k], y:397.5, width:9.6, height:4.6, fill:hbLegColors[k]}, hb);
  
  
  const t = txt(hbLegNames[k], hbLegX[k]+10.2, 401.8, 4.5, "start", hb);
  
  
}
for (let i=0;i<hbMonths.length;i++){
  let cum = 0;
  for (let k=0;k<7;k++){
    const v = hbSeries[k][i];
    const end = Math.min(100, cum+v);
    const r = mk("rect", {x:hx(cum), y:hyc(i)-2.5, width:hx(end)-hx(cum), height:5, fill:hbColors[k]}, hb);
    
    
    const t = txt(String(v), (hx(cum)+hx(end))/2, hyc(i)+1.8, 5, "middle", hb);
    
    
    cum = end;
  }
  const ml = txt(hbMonths[i], 1368, hyc(i)+1.8, 5, "end", hb);
  
  
}
mk("line", {x1:1370.5, y1:403, x2:1370.5, y2:479.2, stroke:"#000", "stroke-width":0.5}, hb);
mk("line", {x1:1370.5, y1:479.2, x2:1512.5, y2:479.2, stroke:"#000", "stroke-width":0.5}, hb);
mk("rect", {x:1370.5, y:403, width:142, height:76.2, fill:"none", stroke:"#444", "stroke-width":0.3}, hb);
for (const v of hbTicks){
  mk("line", {x1:hx(v), y1:479.2, x2:hx(v), y2:481, stroke:"#000", "stroke-width":0.4}, hb);
  const t = txt(v + "%", hx(v), 487, 5, "middle", hb);
  
  
}
const hbYT = txt("Time/month", 0, 0, 5.5, "middle", hb, {transform:"translate(1356.5,440.6) rotate(-90)"});


const lb5 = labelBox(1193.3, 494, 256.7, 32.3, "Quarterly Trends", 1244.4, 154, 514, 22);



// ===================== PANEL 3: DRIVE ANALYSIS =====================
const da = group();


function heatColor(v){
  const t = Math.min(1, v/0.6);
  const r = Math.round(251 + (230-251)*t), g = Math.round(245 + (40-245)*t), b = Math.round(245 + (42-245)*t);
  return `rgb(${r},${g},${b})`;
}
const colL = c => 1151.7 + (c-1)*30.1;
const colR = c => 1328 + (5-c)*30.2;
const rowTop = r => 530.2 + (5-r)*21;
const rowBot = r => 654.2 + (r-1)*21;
const quads = [
  {m:springQ, cx:colL, ry:rowTop, name:"spring"},
  {m:summerQ, cx:colR, ry:rowTop, name:"summer"},
  {m:autumnQ, cx:colL, ry:rowBot, name:"autumn"},
  {m:growQ, cx:colR, ry:rowBot, name:"growing-season"}
];
for (const q of quads){
  for (let r=1;r<=5;r++){
    const rowVals = q.m[r-1];
    for (let j=0;j<rowVals.length;j++){
      const c = r + j;
      const v = rowVals[j];
      const x = q.cx(c), y = q.ry(r);
      const cell = mk("rect", {x:x, y:y, width:29, height:19.7, fill:heatColor(v)}, da);
      
      
      const t = txt(String(v), x+14.5, y+13.5, 10, "middle", da, {fill: v >= 0.5 || (v>0.46 && q.name==="spring") ? "#fff" : "#000"});
      
      
    }
  }
}
mk("line", {x1:1301.4, y1:529.5, x2:1301.4, y2:635, stroke:"#000", "stroke-width":0.6}, da);
mk("line", {x1:1328, y1:529.5, x2:1328, y2:635, stroke:"#000", "stroke-width":0.6}, da);
mk("line", {x1:1301.4, y1:653.4, x2:1301.4, y2:758.5, stroke:"#000", "stroke-width":0.6}, da);
mk("line", {x1:1328, y1:653.4, x2:1328, y2:758.5, stroke:"#000", "stroke-width":0.6}, da);
mk("line", {x1:1150.5, y1:634.9, x2:1301.4, y2:634.9, stroke:"#000", "stroke-width":0.6}, da);
mk("line", {x1:1328, y1:634.9, x2:1479, y2:634.9, stroke:"#000", "stroke-width":0.6}, da);
mk("line", {x1:1150.5, y1:653.4, x2:1301.4, y2:653.4, stroke:"#000", "stroke-width":0.6}, da);
mk("line", {x1:1328, y1:653.4, x2:1479, y2:653.4, stroke:"#000", "stroke-width":0.6}, da);
for (let r=1;r<=5;r++){
  const yt = rowTop(r)+9.85, yb = rowBot(r)+9.85;
  for (const [xx, yy] of [[1309,yt],[1320.5,yt],[1309,yb],[1320.5,yb]]){
    const t = txt(factorNames[r-1], xx, yy+2, 5.5, "middle", da);
    
    
  }
  mk("line", {x1:1301.4, y1:yt, x2:1303.5, y2:yt, stroke:"#000", "stroke-width":0.5}, da);
  mk("line", {x1:1325.9, y1:yt, x2:1328, y2:yt, stroke:"#000", "stroke-width":0.5}, da);
  mk("line", {x1:1301.4, y1:yb, x2:1303.5, y2:yb, stroke:"#000", "stroke-width":0.5}, da);
  mk("line", {x1:1325.9, y1:yb, x2:1328, y2:yb, stroke:"#000", "stroke-width":0.5}, da);
}
for (let c=1;c<=5;c++){
  for (const xc of [colL(c)+14.5, colR(c)+14.5]){
    mk("line", {x1:xc, y1:634.9, x2:xc, y2:636.6, stroke:"#000", "stroke-width":0.5}, da);
    mk("line", {x1:xc, y1:651.7, x2:xc, y2:653.4, stroke:"#000", "stroke-width":0.5}, da);
    const t1 = txt(factorNames[c-1], xc, 642, 5.3, "middle", da);
    
    
    const t2 = txt(factorNames[c-1], xc, 647.5, 5.3, "middle", da);
    
    
  }
}
const qa = txt("(a) Spring", 1209.5, 539.5, 9.5, "middle", da);


const qb = txt("(b) Summer", 1423, 539.5, 9.5, "middle", da);


const qc = txt("(c) Autumn", 1206, 755, 9.5, "middle", da);


const qd = txt("(d) Growing season", 1428, 755, 9.5, "middle", da);


const lb6 = labelBox(1193.4, 762.5, 256.6, 37.3, "Drive analysis", 1259.5, 124.5, 788, 24);


</script>
</body></html>
